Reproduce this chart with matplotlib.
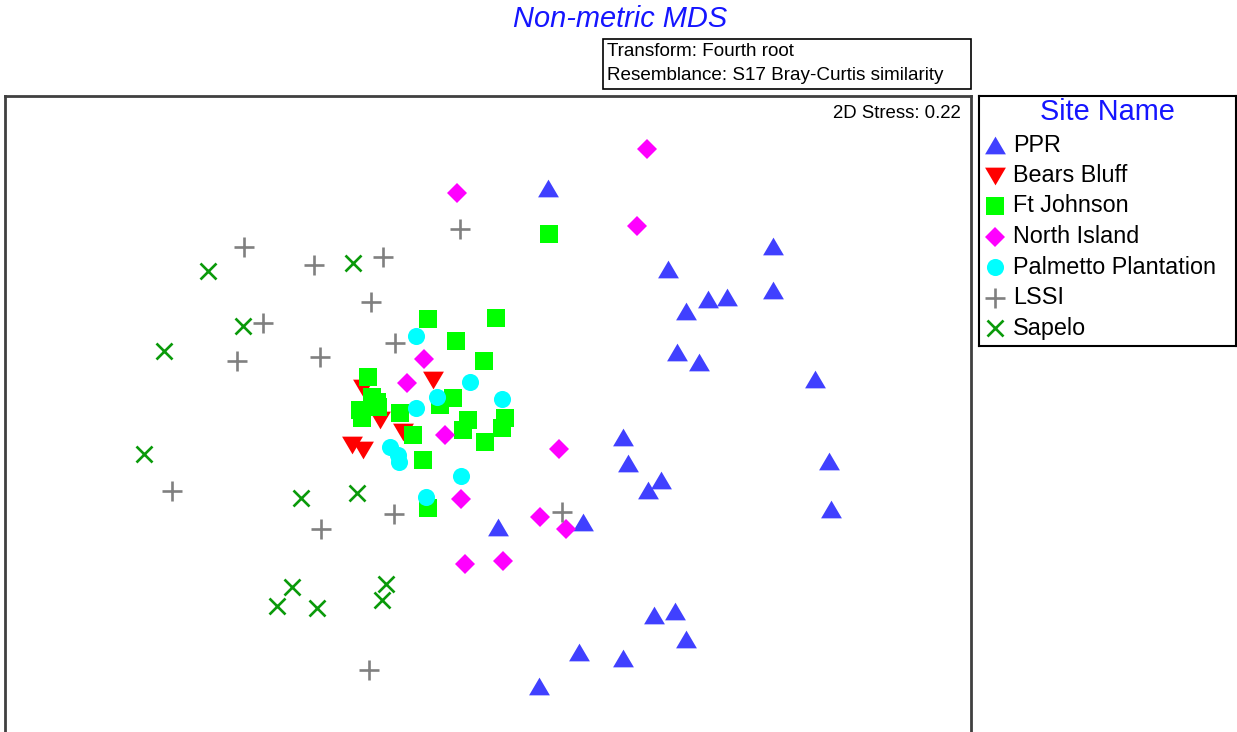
import matplotlib
matplotlib.use("Agg")
import matplotlib.pyplot as plt
from matplotlib.patches import Rectangle

plt.rcParams['font.family'] = ['Liberation Sans', 'DejaVu Sans']

# nMDS ordination scores per site (axis 1, axis 2; axis 2 runs downwards)
ppr_x = [548, 773, 668, 773, 708, 727, 686, 677, 699, 815, 623, 628, 661, 648, 829, 831, 498, 583, 654, 675, 686, 579, 623, 539]
ppr_y = [188, 246, 269, 290, 299, 297, 311, 352, 362, 379, 437, 463, 480, 490, 461, 509, 527, 522, 615, 611, 639, 652, 658, 686]

bears_x = [363, 433, 380, 403, 352, 363]
bears_y = [388, 380, 420, 432, 445, 450]

ftj_x = [428, 496, 456, 484, 368, 372, 377, 360, 362, 378, 400, 413, 453, 440, 468, 463, 505, 502, 485, 423, 428, 549]
ftj_y = [319, 318, 341, 361, 377, 397, 402, 410, 418, 407, 413, 435, 398, 405, 420, 430, 418, 428, 442, 460, 508, 234]

north_x = [457, 647, 637, 424, 407, 445, 461, 559, 540, 566, 465, 503]
north_y = [193, 149, 226, 359, 383, 435, 499, 449, 517, 529, 564, 561]

palm_x = [416, 470, 437, 502, 416, 390, 398, 399, 461, 426]
palm_y = [336, 382, 397, 399, 408, 447, 455, 462, 476, 497]

lssi_x = [244, 314, 383, 371, 263, 237, 320, 395, 460, 172, 321, 394, 562, 369]
lssi_y = [247, 265, 257, 302, 323, 361, 357, 343, 229, 491, 529, 514, 512, 670]

sapelo_x = [208, 353, 243, 164, 144, 301, 357, 292, 277, 317, 386, 382]
sapelo_y = [271, 263, 326, 351, 454, 498, 493, 587, 606, 608, 584, 600]

site_names = ['PPR', 'Bears Bluff', 'Ft Johnson', 'North Island',
              'Palmetto Plantation', 'LSSI', 'Sapelo']

# marker styles
tri_up = [(0, 0.85), (-1, -0.85), (1, -0.85)]
tri_down = [(0, -0.85), (-1, 0.85), (1, 0.85)]
styles = [
    dict(marker=tri_up, color='#4040FF', ms=15, mew=0),
    dict(marker=tri_down, color='#FF0000', ms=15, mew=0),
    dict(marker='s', color='#00FF00', ms=12.3, mew=0),
    dict(marker='D', color='#FF00FF', ms=10.2, mew=0),
    dict(marker='o', color='#00FFFF', ms=12.3, mew=0),
    dict(marker='+', color='#808080', ms=14.5, mew=1.9),
    dict(marker='x', color='#0A9A0A', ms=11, mew=1.9),
]
series = [(ppr_x, ppr_y), (bears_x, bears_y), (ftj_x, ftj_y), (north_x, north_y),
          (palm_x, palm_y), (lssi_x, lssi_y), (sapelo_x, sapelo_y)]

W, H = 1237, 732
fig = plt.figure(figsize=(W / 100, H / 100), dpi=100)


def fx(x):
    return x / W


def fy(y):
    return 1 - y / H


# main ordination panel
ax = fig.add_axes([fx(5), fy(740), (971 - 5) / W, (740 - 96) / H])
for (xs, ys), st in zip(series, styles):
    ax.plot(xs, ys, linestyle='none', marker=st['marker'], color=st['color'],
            markersize=st['ms'], markeredgewidth=st['mew'])
ax.set_xlim(5, 971)
ax.set_ylim(740, 96)
ax.set_xticks([])
ax.set_yticks([])
for sp in ax.spines.values():
    sp.set_color('#404040')
    sp.set_linewidth(2)
ax.text(0.989, 0.973, '2D Stress: 0.22', transform=ax.transAxes,
        ha='right', va='center', fontsize=13.4, color='black')

# title and analysis notes
fig.text(fx(620), fy(19), 'Non-metric MDS', ha='center', va='center',
         fontsize=20.9, style='italic', color='#1515FF')
fig.patches.append(Rectangle((fx(603), fy(89)), (971 - 603) / W, 50 / H,
                             transform=fig.transFigure, fill=False,
                             edgecolor='black', linewidth=1.2))
fig.text(fx(607), fy(51), 'Transform: Fourth root', ha='left', va='center',
         fontsize=13.6, color='black')
fig.text(fx(607), fy(75), 'Resemblance: S17 Bray-Curtis similarity', ha='left',
         va='center', fontsize=13.6, color='black')

# legend panel
lax = fig.add_axes([fx(979), fy(346), (1236 - 979) / W, (346 - 96) / H])
lax.set_xlim(0, 257)
lax.set_ylim(250, 0)
lax.set_xticks([])
lax.set_yticks([])
for sp in lax.spines.values():
    sp.set_color('black')
    sp.set_linewidth(1.5)
lax.text(128, 16, 'Site Name', ha='center', va='center', fontsize=20.8,
         color='#1515FF')
for i, (name, st) in enumerate(zip(site_names, styles)):
    yy = 49 + i * 30.5
    lax.plot([16], [yy], linestyle='none', marker=st['marker'], color=st['color'],
             markersize=st['ms'], markeredgewidth=st['mew'], clip_on=False)
    lax.text(34, yy, name, ha='left', va='center', fontsize=16.8, color='black')

fig.savefig('out.png', dpi=100)
